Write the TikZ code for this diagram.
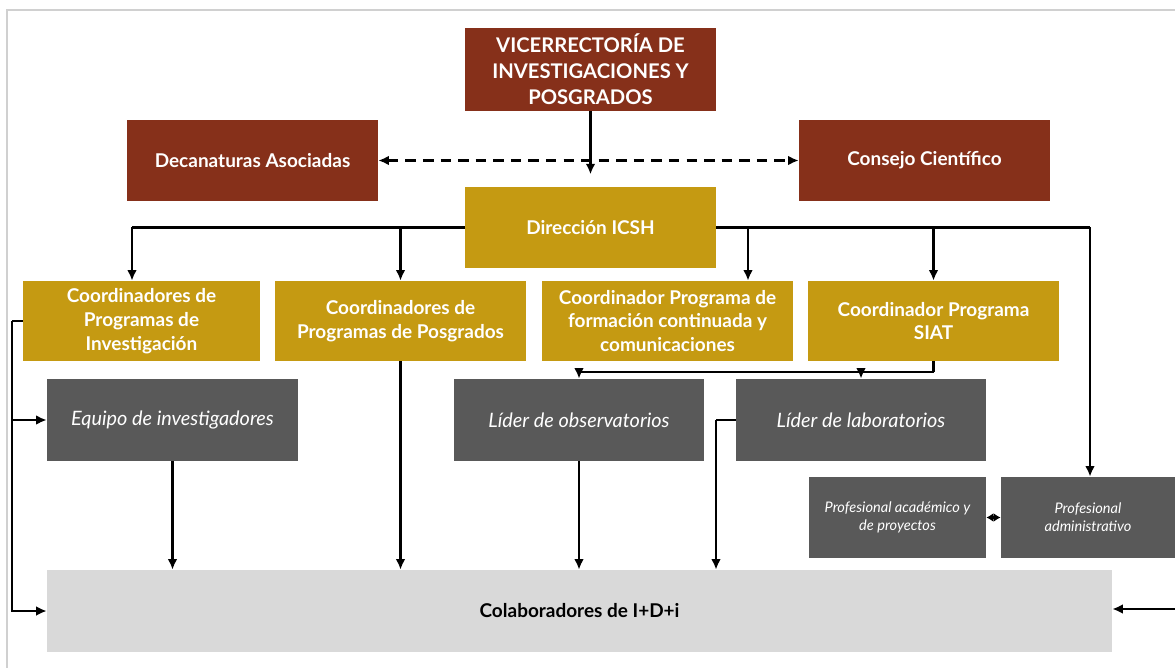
\documentclass[tikz,border=0pt]{standalone}
\usepackage{fontspec}
\setmainfont{Lato}
\usetikzlibrary{arrows.meta,calc,positioning}
\definecolor{VicRed}{RGB}{134,48,26}
\definecolor{IcshGold}{RGB}{197,154,18}
\definecolor{TeamGrey}{RGB}{89,89,89}
\definecolor{ColabGrey}{RGB}{217,217,217}
\definecolor{FrameGrey}{RGB}{208,208,208}

\begin{document}
\begin{tikzpicture}[x=0.02cm, y=-0.02cm, >={Latex[length=6pt,width=5.5pt]},
    redbox/.style={fill=VicRed, text=white, align=center, minimum width=5.02cm, minimum height=1.62cm,
        font=\fontsize{10.8}{13.5}\selectfont\bfseries},
    goldbox/.style={fill=IcshGold, text=white, align=center, minimum width=5.02cm, minimum height=1.6cm,
        font=\fontsize{10.8}{13.5}\selectfont\bfseries},
    greybox/.style={fill=TeamGrey, text=white, align=center, minimum width=5.02cm, minimum height=1.64cm,
        font=\fontsize{11.3}{13.5}\selectfont\itshape},
    smallbox/.style={greybox, minimum width=3.5cm, minimum height=1.62cm,
        font=\fontsize{8.3}{10.2}\selectfont\itshape},
    link/.style={draw=black, line width=1.3pt},
    dashlink/.style={link, dash pattern=on 6pt off 4pt}]

    \useasboundingbox (0,0) rectangle (1175,668);
    \draw[FrameGrey, line width=1pt] (7,668) -- (7,10) -- (1175,10);

    \node[redbox, font=\fontsize{11.5}{14.7}\selectfont\bfseries, minimum height=1.66cm] (vic) at (590.5,69.5)
        {VICERRECTORÍA DE\\INVESTIGACIONES Y\\POSGRADOS};
    \node[redbox] (decan) at (252.5,160.5) {Decanaturas Asociadas};
    \node[redbox] (consejo) at (924.5,160.5) {Consejo Científico};
    \node[goldbox, minimum height=1.62cm] (dir) at (590.5,227.5) {Dirección ICSH};

    \node[goldbox, minimum width=4.74cm] (cinv) at (141.5,321) {Coordinadores de\\Programas de\\Investigación};
    \node[goldbox] (cposg) at (400.5,321) {Coordinadores de\\Programas de Posgrados};
    \node[goldbox] (cform) at (667.5,321) {Coordinador Programa de\\formación continuada y\\comunicaciones};
    \node[goldbox] (csiat) at (933.5,321) {Coordinador Programa\\SIAT};

    \node[greybox] (equipo) at (172.5,420) {Equipo de investigadores};
    \node[greybox] (lobs) at (579,420) {Líder de observatorios};
    \node[greybox, minimum width=5cm] (llab) at (861,420) {Líder de laboratorios};
    \node[smallbox, minimum width=3.54cm] (pacad) at (897.5,517.5) {Profesional académico y\\de proyectos};
    \node[smallbox, minimum width=3.48cm] (padm) at (1088,517.5) {Profesional\\administrativo};

    \node[fill=ColabGrey, minimum width=21.3cm, minimum height=1.64cm,
        font=\fontsize{10.8}{13.5}\selectfont\bfseries] (colab) at (579.5,611) {Colaboradores de I+D+i};

    % top level
    \draw[link, ->, shorten >=7pt] (vic) -- (dir);
    \draw[dashlink, <->] (decan) -- (consejo);

    % from Dirección ICSH
    \coordinate (busL) at (132,227.5);
    \coordinate (busR) at (1090,227.5);
    \coordinate (jF) at (748,227.5);
    \draw[link] (dir.west) -- (busL);
    \draw[link, ->] (busL) -- (busL |- cinv.north);
    \draw[link, ->] (dir.west -| cposg.north) -- (cposg.north);
    \draw[link] (dir.east) -- (busR);
    \draw[link, ->] (jF) -- (jF |- cform.north);
    \draw[link, ->] (dir.east -| csiat.north) -- (csiat.north);
    \draw[link, ->] (busR) -- (busR |- padm.north);

    % SIAT to leaders
    \coordinate (jS) at (933.5,372);
    \draw[link] (csiat.south) -- (jS);
    \draw[link, ->] (jS) -| (lobs.north);
    \draw[link, ->] (jS -| llab.north) -- (llab.north);

    % left side
    \coordinate (busC) at (12,321);
    \draw[link] (cinv.west) -- (busC);
    \draw[link, ->] (busC) |- (colab.west);
    \draw[link, ->] (busC |- equipo.west) -- (equipo.west);

    % into Colaboradores
    \coordinate (jL) at (716,420);
    \draw[link, ->] (equipo.south) -- (equipo.south |- colab.north);
    \draw[link, ->] (cposg.south) -- (cposg.south |- colab.north);
    \draw[link, ->] (lobs.south) -- (lobs.south |- colab.north);
    \draw[link] (llab.west) -- (jL);
    \draw[link, ->] (jL) -- (jL |- colab.north);
    \draw[link, {Latex[length=4pt,width=5pt]}-{Latex[length=4pt,width=5pt]}] (padm.west) -- (pacad.east);
    \coordinate (rEdge) at (1175,609);
    \draw[link, ->] (rEdge) -- (colab.east |- rEdge);
\end{tikzpicture}
\end{document}
